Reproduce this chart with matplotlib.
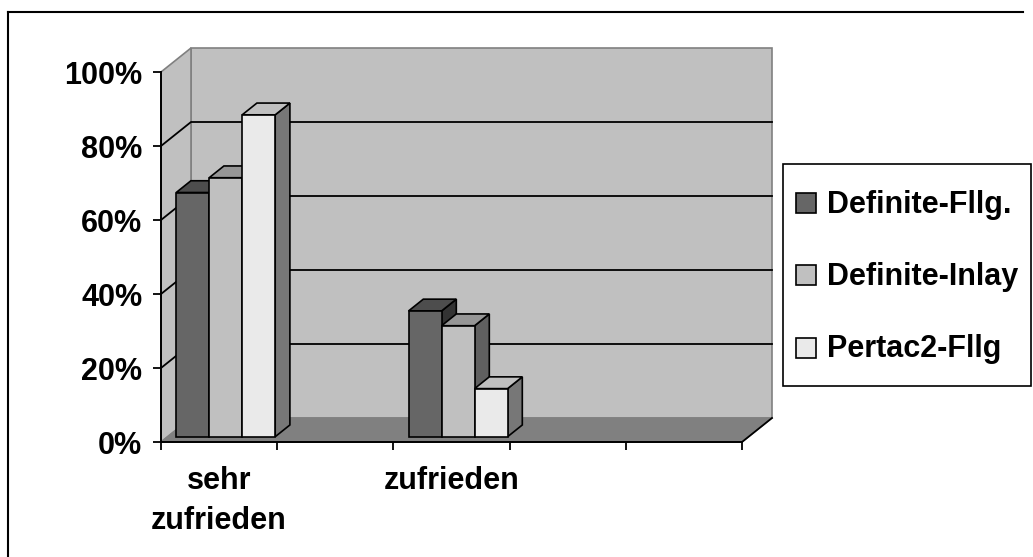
import matplotlib
matplotlib.use("Agg")
import matplotlib.pyplot as plt
from matplotlib.patches import Polygon, Rectangle
from matplotlib.lines import Line2D

# ---------------- data ----------------
categories = ["sehr\nzufrieden", "", "zufrieden", "", ""]
series_names = ["Definite-Fllg.", "Definite-Inlay", "Pertac2-Fllg"]
definite_fllg = [66, 0, 34, 0, 0]
definite_inlay = [70, 0, 30, 0, 0]
pertac2_fllg = [87, 0, 13, 0, 0]
y_ticks = [0, 20, 40, 60, 80, 100]
y_tick_labels = ["0%", "20%", "40%", "60%", "80%", "100%"]

series_values = [definite_fllg, definite_inlay, pertac2_fllg]
# (front, top, side) colours per series
series_colors = [("#666666", "#4d4d4d", "#333333"),
                 ("#c0c0c0", "#969696", "#606060"),
                 ("#eaeaea", "#c0c0c0", "#777777")]

# ---------------- figure ----------------
W, H = 1033, 557
fig = plt.figure(figsize=(W / 100, H / 100), dpi=100)
fig.patch.set_facecolor("white")

FS = 22
FONT = ["Liberation Sans", "DejaVu Sans"]

# front plane: x 0..5 -> px 161..742 ; y 0..100 -> px 442..72
ax = fig.add_axes([161 / W, (H - 442) / H, 581 / W, 370 / H])
n = len(categories)
ax.set_xlim(0, n)
ax.set_ylim(0, 100)
ax.patch.set_visible(False)

px_x = 581 / n          # pixels per category unit
px_y = 370 / 100        # pixels per percent
DX = 30 / px_x          # depth offset in x (data units)
DY = 24 / px_y          # depth offset in y (data units)


def P(x, v, z):
    return (x + z * DX, v + z * DY)


def poly(pts, fc, ec, lw=1.0, z=1):
    ax.add_patch(Polygon(pts, closed=True, facecolor=fc, edgecolor=ec,
                         linewidth=lw, clip_on=False, zorder=z,
                         joinstyle="miter"))


# walls and floor
poly([P(0, 0, 1), P(n, 0, 1), P(n, 100, 1), P(0, 100, 1)], "#c0c0c0", "#808080", 1.2, 1)
poly([P(0, 0, 0), P(0, 0, 1), P(0, 100, 1), P(0, 100, 0)], "#c0c0c0", "#808080", 1.2, 1)
poly([P(0, 0, 0), P(n, 0, 0), P(n, 0, 1), P(0, 0, 1)], "#808080", "#808080", 1.0, 1.1)
# floor right edge (black)
ax.add_line(Line2D(*zip(P(n, 0, 0), P(n, 0, 1)), color="black", lw=1.3,
                   clip_on=False, zorder=1.2))

# gridlines on back wall and side wall
for v in y_ticks[1:-1]:
    xs, ys = zip(P(0, v, 0), P(0, v, 1), P(n, v, 1))
    ax.add_line(Line2D(xs, ys, color="black", lw=1.3, clip_on=False, zorder=1.3))

# bars
bw = 0.284
z0, z1 = 0.22, 0.71
for ci in range(n):
    c = ci + 0.5
    for si, vals in enumerate(series_values):
        v = vals[ci]
        if not v:
            continue
        fc, tc, sc = series_colors[si]
        x0 = c - 1.5 * bw + si * bw
        x1 = x0 + bw
        # side face
        poly([P(x1, 0, z0), P(x1, 0, z1), P(x1, v, z1), P(x1, v, z0)], sc, "black", 1.2, 2)
        # top face
        poly([P(x0, v, z0), P(x1, v, z0), P(x1, v, z1), P(x0, v, z1)], tc, "black", 1.2, 2)
        # front face
        poly([P(x0, 0, z0), P(x1, 0, z0), P(x1, v, z0), P(x0, v, z0)], fc, "black", 1.2, 2)

# axes styling
for s in ("top", "right"):
    ax.spines[s].set_visible(False)
for s in ("left", "bottom"):
    ax.spines[s].set_color("black")
    ax.spines[s].set_linewidth(1.4)
    ax.spines[s].set_zorder(3)

ax.set_yticks(y_ticks)
ax.set_yticklabels(y_tick_labels)
ax.tick_params(axis="y", direction="out", length=5.5, width=1.3, pad=8,
               labelsize=FS, colors="black")
for t in ax.get_yticklabels():
    t.set_fontweight("bold")
    t.set_family(FONT)

ax.set_xticks(range(n + 1))
ax.set_xticklabels([])
ax.tick_params(axis="x", which="major", direction="out", length=5.5, width=1.3)
ax.set_xticks([i + 0.5 for i in range(n)], minor=True)
ax.set_xticklabels(categories, minor=True)
ax.tick_params(axis="x", which="minor", length=0, pad=17, labelsize=FS)
for t in ax.get_xticklabels(minor=True):
    t.set_fontweight("bold")
    t.set_family(FONT)
    t.set_linespacing(1.45)

# ---------------- legend (manual, pixel-placed) ----------------
def fx(x):
    return x / W


def fy(y):
    return 1 - y / H


fig.add_artist(Rectangle((fx(783), fy(386)), (1031 - 783) / W, (386 - 164) / H,
                         transform=fig.transFigure, facecolor="white",
                         edgecolor="black", linewidth=1.2, zorder=5))
row_centers = [203, 275, 347.5]
for si, name in enumerate(series_names):
    yc = row_centers[si]
    fig.add_artist(Rectangle((fx(796), fy(yc + 10)), 20 / W, 20 / H,
                             transform=fig.transFigure,
                             facecolor=series_colors[si][0], edgecolor="black",
                             linewidth=1.2, zorder=6))
    fig.text(fx(827), fy(yc + 10), name, fontsize=FS, fontweight="bold",
             family=FONT, va="baseline", ha="left", zorder=6)

# outer chart frame (top and left visible)
fig.add_artist(Line2D([fx(8), fx(1023)], [fy(12), fy(12)], transform=fig.transFigure,
                      color="black", lw=1.5))
fig.add_artist(Line2D([fx(8), fx(8)], [fy(12), fy(557)], transform=fig.transFigure,
                      color="black", lw=1.5))

fig.savefig("out.png", dpi=100, facecolor="white")
